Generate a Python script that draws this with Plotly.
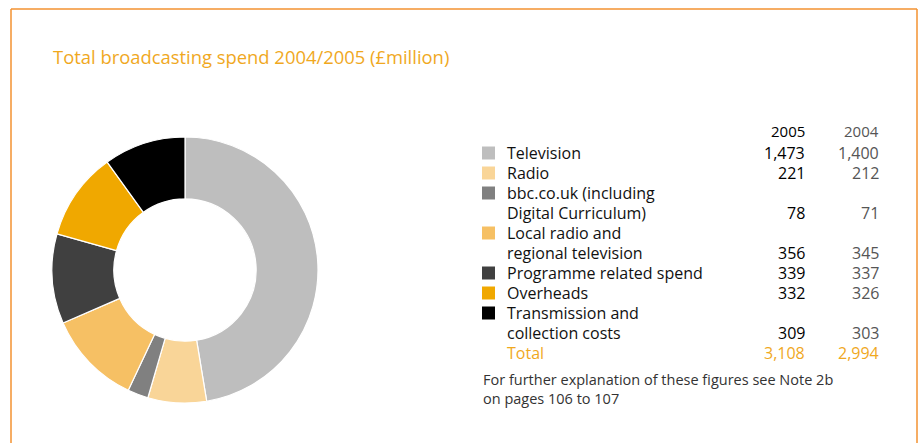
import plotly.graph_objects as go

W, H = 918, 443

# Spend categories (legend / table rows) and values in £million
categories = [
    "Television",
    "Radio",
    "bbc.co.uk (including<br>Digital Curriculum)",
    "Local radio and<br>regional television",
    "Programme related spend",
    "Overheads",
    "Transmission and<br>collection costs",
]
spend_2005 = [1473, 221, 78, 356, 339, 332, 309]
spend_2004 = [1400, 212, 71, 345, 337, 326, 303]
colors = ["#BEBEBE", "#F9D598", "#808080", "#F6C064", "#404040", "#F0A800", "#000000"]

ORANGE = "#F0A81E"
BORDER = "#F39231"
FONT = "Open Sans"


def px(x):
    return x / W


def py(y):
    return 1 - y / H


fig = go.Figure()

# Donut of 2005 spend
cx, cy, r = 185, 270, 133
fig.add_trace(go.Pie(
    labels=[c.replace("<br>", " ") for c in categories],
    values=spend_2005,
    hole=0.535,
    sort=False,
    direction="clockwise",
    rotation=0,
    marker=dict(colors=colors, line=dict(color="white", width=1.2)),
    textinfo="none",
    hoverinfo="label+value",
    domain=dict(x=[px(cx - r), px(cx + r)], y=[py(cy + r), py(cy - r)]),
    showlegend=False,
))

annotations = []
shapes = []


def text(x, y, s, size=16, color="#111", anchor="left", weight=None):
    f = dict(family=FONT, size=size, color=color)
    if weight:
        f["weight"] = weight
    annotations.append(dict(
        x=px(x), y=py(y), xref="paper", yref="paper", text=s, showarrow=False,
        xanchor=anchor, yanchor="middle", align="left", font=f,
    ))


# Title
text(51, 57, "Total broadcasting spend 2004/2005 (£million)", size=18.4, color=ORANGE)

# Table header
col05, col04 = 807, 881
text(col05, 131, "2005", size=15, color="#000", anchor="right")
text(col04, 131, "2004", size=15, color="#555", anchor="right")

# Table rows with colour keys
row_h = 20
y = 153
for cat, v05, v04, col in zip(categories, spend_2005, spend_2004, colors):
    lines = cat.split("<br>")
    shapes.append(dict(type="rect", xref="paper", yref="paper",
                       x0=px(482), x1=px(495), y0=py(y + 6.5), y1=py(y - 6.5),
                       fillcolor=col, line=dict(width=0)))
    for i, ln in enumerate(lines):
        text(505, y + i * row_h, ln, size=16, color="#111")
    yv = y + (len(lines) - 1) * row_h
    text(col05, yv, f"{v05:,}", size=16, color="#000", anchor="right")
    text(col04, yv, f"{v04:,}", size=16, color="#555", anchor="right")
    y = yv + row_h

# Totals
text(505, y, "Total", size=16, color=ORANGE)
text(col05, y, f"{sum(spend_2005):,}", size=16, color=ORANGE, anchor="right")
text(col04, y, f"{sum(spend_2004):,}", size=16, color=ORANGE, anchor="right")

# Footnote
text(481, 389, "For further explanation of these figures see Note 2b<br>on pages 106 to 107",
     size=14.5, color="#333")

# Frame lines
for x0, y0, x1, y1 in [(11, 9, 917, 9), (11, 9, 11, H), (917, 9, 917, H)]:
    shapes.append(dict(type="line", xref="paper", yref="paper",
                       x0=px(x0), y0=py(y0), x1=px(x1), y1=py(y1),
                       line=dict(color=BORDER, width=1.5)))

fig.update_layout(
    width=W, height=H,
    margin=dict(l=0, r=0, t=0, b=0),
    paper_bgcolor="white", plot_bgcolor="white",
    annotations=annotations, shapes=shapes,
    font=dict(family=FONT),
)

fig.write_html("out.html")
